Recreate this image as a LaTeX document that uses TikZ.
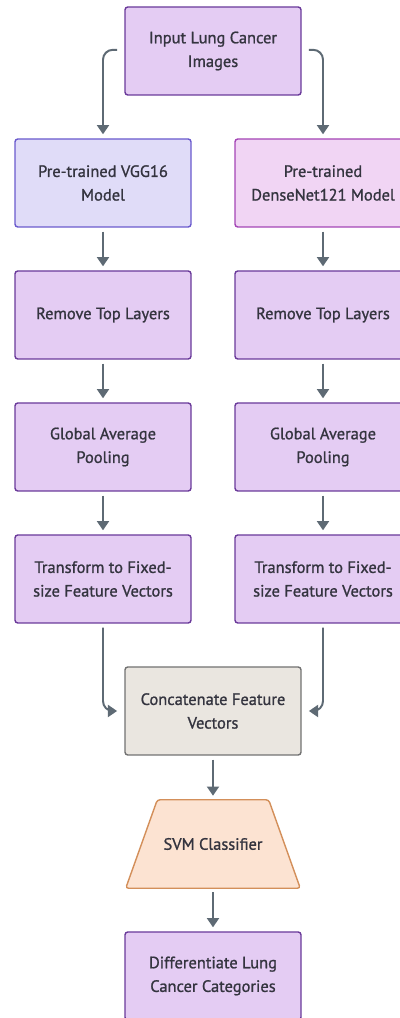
\documentclass[tikz,border=0pt]{standalone}
\usepackage{fontspec}
\setmainfont{PT Sans}[UprightFeatures={FakeBold=1.1}]
\usetikzlibrary{arrows.meta}

\definecolor{boxfill}{HTML}{E4CCF3}
\definecolor{boxline}{HTML}{6A3A9A}
\definecolor{vggfill}{HTML}{E0DCF8}
\definecolor{vggline}{HTML}{6A5ACD}
\definecolor{densefill}{HTML}{F1D5F4}
\definecolor{denseline}{HTML}{A445B6}
\definecolor{catfill}{HTML}{EAE6E0}
\definecolor{catline}{HTML}{727272}
\definecolor{svmfill}{HTML}{FCE3D2}
\definecolor{svmline}{HTML}{D38F5A}
\definecolor{arrowgray}{HTML}{5E6A74}
\definecolor{textgray}{HTML}{34343F}

\begin{document}
\begin{tikzpicture}[
  font=\fontsize{11.7}{16.8}\selectfont, text=textgray,
  stage/.style={draw=boxline, fill=boxfill, line width=1pt, rounded corners=2pt,
    minimum width=4.4cm, minimum height=2.2cm, align=center},
  flow/.style={draw=arrowgray, line width=1.4pt, rounded corners=7pt,
    -{Triangle[length=2.3mm,width=3mm]}, shorten <=0.1cm, shorten >=0.1cm}
]
\useasboundingbox (0,0) rectangle (10,25.45);

% input
\node[stage] (input) at (5.325,24.175) {Input Lung Cancer\\Images};

% two backbones
\node[stage, draw=vggline, fill=vggfill] (vgg) at (2.575,20.875) {Pre-trained VGG16\\Model};
\node[stage, draw=denseline, fill=densefill] (dense) at (8.075,20.875) {Pre-trained\\DenseNet121 Model};

\node[stage] (removeL) at (2.575,17.575) {Remove Top Layers};
\node[stage] (removeR) at (8.075,17.575) {Remove Top Layers};

\node[stage] (poolL) at (2.575,14.275) {Global Average\\Pooling};
\node[stage] (poolR) at (8.075,14.275) {Global Average\\Pooling};

\node[stage] (vecL) at (2.575,10.975) {Transform to Fixed-\\size Feature Vectors};
\node[stage] (vecR) at (8.075,10.975) {Transform to Fixed-\\size Feature Vectors};

% fusion and classification
\node[stage, draw=catline, fill=catfill] (concat) at (5.325,7.675) {Concatenate Feature\\Vectors};
\node[minimum width=4.35cm, minimum height=2.2cm] (svm) at (5.325,4.35) {};
\draw[draw=svmline, fill=svmfill, line width=1pt, rounded corners=2pt]
  (svm.south west) -- ([xshift=0.79cm]svm.north west) -- ([xshift=-0.79cm]svm.north east)
  -- (svm.south east) -- cycle;
\node (svmtext) at (svm.center) {SVM Classifier};
\node[stage] (out) at (5.325,1.05) {Differentiate Lung\\Cancer Categories};

\draw[flow, shorten <=0.18cm] ([yshift=0.03cm]input.west) -| (vgg.north);
\draw[flow, shorten <=0.18cm] ([yshift=0.03cm]input.east) -| (dense.north);

\draw[flow] (vgg) -- (removeL);
\draw[flow] (removeL) -- (poolL);
\draw[flow] (poolL) -- (vecL);
\draw[flow] (dense) -- (removeR);
\draw[flow] (removeR) -- (poolR);
\draw[flow] (poolR) -- (vecR);

\draw[flow, shorten >=0.18cm] (vecL.south) |- (concat.west);
\draw[flow, shorten >=0.18cm] (vecR.south) |- (concat.east);

\draw[flow] (concat) -- (svm);
\draw[flow] (svm) -- (out);
\end{tikzpicture}
\end{document}
